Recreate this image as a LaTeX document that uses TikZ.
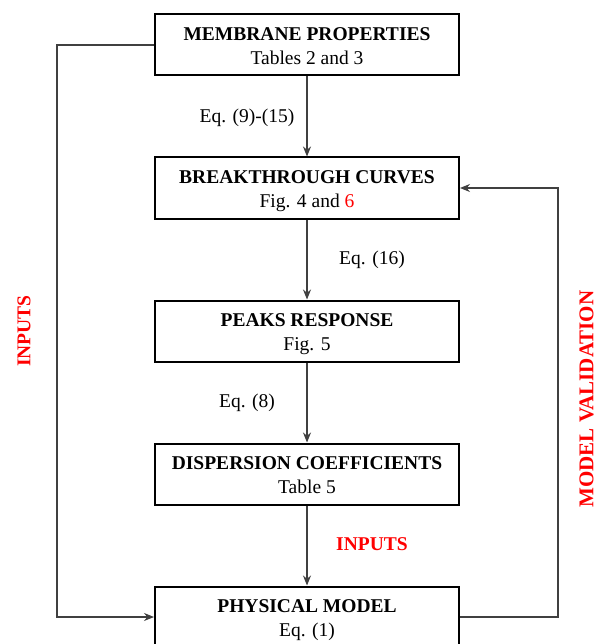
\documentclass[tikz,border=0pt]{standalone}
\usepackage{fontspec}
\setmainfont{Liberation Serif}
\usetikzlibrary{arrows.meta}
\definecolor{linegray}{gray}{0.25}
\newcommand{\boxtext}[2]{\raisebox{-3pt}[\height][\depth]{\begin{tabular}{@{}c@{}}\textbf{#1}\\#2\end{tabular}}}
\begin{document}
\begin{tikzpicture}[x=1pt,y=-1pt,
  box/.style={draw=black,line width=2pt,minimum width=304pt,minimum height=61pt,
    inner sep=0pt,align=center,font=\fontsize{19.5}{24}\selectfont},
  conn/.style={draw=linegray,line width=1.1pt,-{Stealth[length=10pt,width=8pt]}},
  lab/.style={font=\fontsize{19.5}{22}\selectfont,inner sep=0pt},
  redlab/.style={font=\fontsize{19.5}{22}\selectfont\bfseries,text=red,inner sep=0pt,text depth=0pt}]
\useasboundingbox (0,0) rectangle (597,644);
\node[box] (mem) at (307,45) {\boxtext{MEMBRANE PROPERTIES}{Tables 2 and 3}};
\node[box] (bc) at (307,188) {\boxtext{BREAKTHROUGH CURVES}{Fig. 4 and {\color{red}6}}};
\node[box] (pr) at (307,331) {\boxtext{PEAKS RESPONSE}{Fig. 5}};
\node[box] (dc) at (307,474) {\boxtext{DISPERSION COEFFICIENTS}{Table 5}};
\node[box] (pm) at (307,617) {\boxtext{PHYSICAL MODEL}{Eq. (1)}};
\coordinate (lt) at (57,45);
\coordinate (lb) at (57,617);
\coordinate (rt) at (558,188);
\coordinate (rb) at (558,617);
\draw[conn] (mem) -- (bc);
\draw[conn] (bc) -- (pr);
\draw[conn] (pr) -- (dc);
\draw[conn] (dc) -- (pm);
\draw[conn] (mem.west) -- (lt) -- (lb) -- (pm.west);
\draw[conn] (pm.east) -- (rb) -- (rt) -- (bc.east);
\node[lab] (e1) at (247,118) {Eq. (9)-(15)};
\node[lab] (e2) at (372,260) {Eq. (16)};
\node[lab] (e3) at (247,403) {Eq. (8)};
\node[redlab] (in2) at (372,544) {INPUTS};
\node[redlab,rotate=90] (in1) at (24,331) {INPUTS};
\node[redlab,rotate=90,font=\fontsize{21}{22}\selectfont\bfseries] (mv) at (586.5,399) {MODEL VALIDATION};
\end{tikzpicture}
\end{document}
